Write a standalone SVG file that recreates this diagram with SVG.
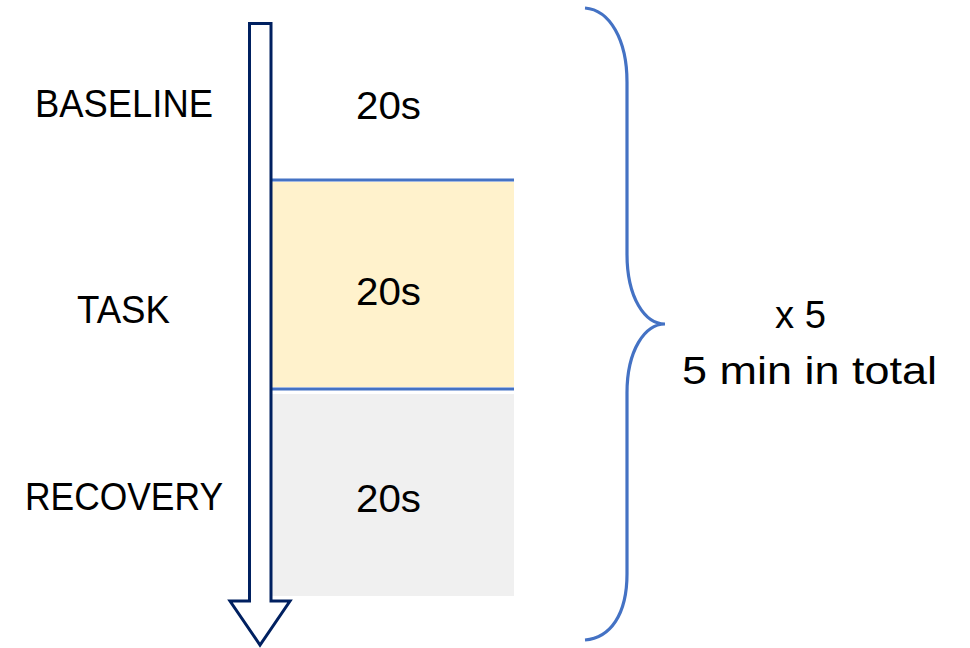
<svg xmlns="http://www.w3.org/2000/svg" width="970" height="648" viewBox="0 0 970 648">
<style>
.t{font-family:"Liberation Sans",Arial,sans-serif;font-size:38px;fill:#000}
.sep{stroke:#4472C4;stroke-width:3;fill:none}
</style>
<rect width="970" height="648" fill="#fff"/>
<g id="task-block"><rect x="272" y="182" width="242" height="205" fill="#FFF2CC"/></g>
<g id="recovery-block"><rect x="272" y="394" width="242" height="202" fill="#F0F0F0"/></g>
<g id="separators">
<line class="sep" x1="272" y1="180" x2="514" y2="180"/>
<line class="sep" x1="272" y1="389" x2="514" y2="389"/>
</g>
<g id="time-arrow">
<polygon points="249.5,23.5 271,23.5 271,601 290,601 260,645 230,601 249.5,601" fill="#fff" stroke="#002060" stroke-width="3" stroke-linejoin="miter"/>
</g>
<g id="brace">
<path d="M585,8 C610,10 627,40 627,82 L627,254 C627,298 645,324 665,324 C645,324 627,350 627,393 L627,574 C627,615 610,638 585,640" fill="none" stroke="#4472C4" stroke-width="3.2"/>
</g>
<g id="labels">
<text class="t" x="35" y="117" textLength="178" lengthAdjust="spacingAndGlyphs">BASELINE</text>
<text class="t" x="77" y="323" textLength="93" lengthAdjust="spacingAndGlyphs">TASK</text>
<text class="t" x="25" y="510" textLength="198" lengthAdjust="spacingAndGlyphs">RECOVERY</text>
<text class="t" x="356" y="119" textLength="65" lengthAdjust="spacingAndGlyphs">20s</text>
<text class="t" x="356" y="305" textLength="65" lengthAdjust="spacingAndGlyphs">20s</text>
<text class="t" x="356" y="512" textLength="65" lengthAdjust="spacingAndGlyphs">20s</text>
<text class="t" x="775" y="328" textLength="51" lengthAdjust="spacingAndGlyphs">x 5</text>
<text class="t" x="682" y="384" textLength="255" lengthAdjust="spacingAndGlyphs">5 min in total</text>
</g>
</svg>
